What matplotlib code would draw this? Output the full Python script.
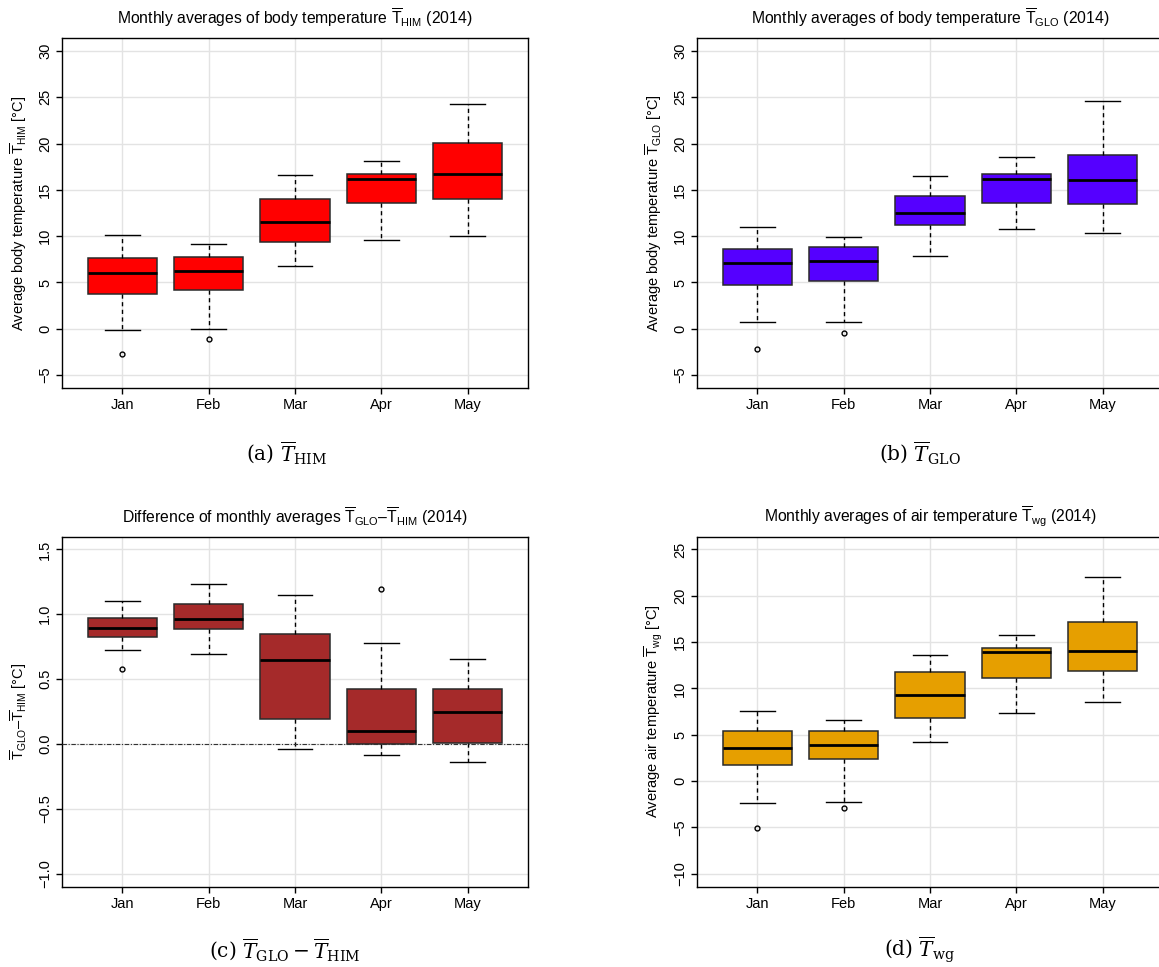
import matplotlib
matplotlib.use("Agg")
import matplotlib.pyplot as plt

plt.rcParams['font.family'] = ['Liberation Sans', 'DejaVu Sans']
plt.rcParams['mathtext.fontset'] = 'custom'
plt.rcParams['mathtext.rm'] = 'Liberation Sans'
plt.rcParams['mathtext.it'] = 'Liberation Sans:italic'
plt.rcParams['mathtext.bf'] = 'Liberation Sans:bold'

months = ["Jan", "Feb", "Mar", "Apr", "May"]

# box statistics: lower whisker, Q1, median, Q3, upper whisker
him_low = [-0.14, 0.0, 6.83, 9.60, 10.07]
him_q1 = [3.78, 4.17, 9.35, 13.60, 13.99]
him_med = [6.04, 6.29, 11.55, 16.12, 16.76]
him_q3 = [7.63, 7.77, 14.03, 16.76, 20.10]
him_high = [10.14, 9.14, 16.58, 18.17, 24.24]
him_out = [[-2.73], [-1.15], [], [], []]

glo_low = [0.68, 0.76, 7.91, 10.79, 10.29]
glo_q1 = [4.71, 5.18, 11.22, 13.53, 13.49]
glo_med = [7.09, 7.37, 12.52, 16.15, 16.08]
glo_q3 = [8.56, 8.81, 14.39, 16.76, 18.74]
glo_high = [10.94, 9.89, 16.55, 18.60, 24.57]
glo_out = [[-2.16], [-0.43], [], [], []]

diff_low = [0.728, 0.694, -0.039, -0.082, -0.139]
diff_q1 = [0.823, 0.887, 0.190, 0.003, 0.005]
diff_med = [0.895, 0.961, 0.650, 0.098, 0.244]
diff_q3 = [0.972, 1.077, 0.851, 0.422, 0.424]
diff_high = [1.100, 1.231, 1.152, 0.779, 0.656]
diff_out = [[0.578], [], [], [1.198], []]

wg_low = [-2.34, -2.30, 4.17, 7.30, 8.56]
wg_q1 = [1.73, 2.34, 6.80, 11.08, 11.91]
wg_med = [3.56, 3.92, 9.28, 13.96, 14.03]
wg_q3 = [5.40, 5.40, 11.76, 14.35, 17.16]
wg_high = [7.55, 6.62, 13.63, 15.72, 22.01]
wg_out = [[-5.04], [-2.95], [], [], []]


def make_stats(low, q1, med, q3, high, out):
    stats = []
    for i in range(len(months)):
        stats.append(dict(whislo=low[i], q1=q1[i], med=med[i], q3=q3[i],
                          whishi=high[i], fliers=out[i], label=months[i]))
    return stats


def r_boxplot(ax, stats, color, yticks, title, ylabel):
    pos = list(range(1, len(months) + 1))
    ax.bxp(stats, positions=pos, widths=0.8, capwidths=0.4, patch_artist=True,
           boxprops=dict(facecolor=color, edgecolor='#2a2a2a', linewidth=1.1),
           medianprops=dict(color='black', linewidth=2.0),
           whiskerprops=dict(color='black', linewidth=1.0, linestyle=(0, (3, 2.5))),
           capprops=dict(color='black', linewidth=1.0),
           flierprops=dict(marker='o', markersize=3.5, markerfacecolor='none',
                           markeredgecolor='black', markeredgewidth=1.0),
           zorder=3)
    lo, hi = yticks[0], yticks[-1]
    pad = (hi - lo) * 0.04
    ax.set_ylim(lo - pad, hi + pad)
    ax.set_xlim(0.3, 5.7)
    ax.set_yticks(yticks)
    ax.set_xticks(pos)
    ax.set_xticklabels(months)
    for y in yticks:
        ax.axhline(y, color='#E3E3E3', linewidth=1.0, zorder=0)
    for x in pos:
        ax.axvline(x, color='#E3E3E3', linewidth=1.0, zorder=0)
    ax.tick_params(axis='both', direction='out', length=4, width=1, labelsize=10.5, colors='black')
    ax.tick_params(axis='y', labelrotation=90, pad=3)
    for lab in ax.get_yticklabels():
        lab.set_va('center')
    for sp in ax.spines.values():
        sp.set_linewidth(1.0)
        sp.set_color('black')
    ax.set_title(title, fontsize=11.3, pad=10)
    ax.set_ylabel(ylabel, fontsize=10.5, va='center')
    ax.yaxis.set_label_coords(-0.094, 0.5)


fig = plt.figure(figsize=(11.59, 9.67), dpi=100)

W = 466 / 1159
H = 350 / 967
ax_a = fig.add_axes([62 / 1159, (967 - 388) / 967, W, H])
ax_b = fig.add_axes([697 / 1159, (967 - 388) / 967, W, H])
ax_c = fig.add_axes([62 / 1159, (967 - 886.5) / 967, W, H])
ax_d = fig.add_axes([697 / 1159, (967 - 886.5) / 967, W, H])

r_boxplot(ax_a, make_stats(him_low, him_q1, him_med, him_q3, him_high, him_out),
          '#FF0000', [-5, 0, 5, 10, 15, 20, 25, 30],
          r'Monthly averages of body temperature $\overline{\mathrm{T}}_{\mathrm{HIM}}$ (2014)',
          r'Average body temperature $\overline{\mathrm{T}}_{\mathrm{HIM}}$ [°C]')

r_boxplot(ax_b, make_stats(glo_low, glo_q1, glo_med, glo_q3, glo_high, glo_out),
          '#5500FF', [-5, 0, 5, 10, 15, 20, 25, 30],
          r'Monthly averages of body temperature $\overline{\mathrm{T}}_{\mathrm{GLO}}$ (2014)',
          r'Average body temperature $\overline{\mathrm{T}}_{\mathrm{GLO}}$ [°C]')

r_boxplot(ax_c, make_stats(diff_low, diff_q1, diff_med, diff_q3, diff_high, diff_out),
          '#A52A2A', [-1.0, -0.5, 0.0, 0.5, 1.0, 1.5],
          r'Difference of monthly averages $\overline{\mathrm{T}}_{\mathrm{GLO}}$–$\overline{\mathrm{T}}_{\mathrm{HIM}}$ (2014)',
          r'$\overline{\mathrm{T}}_{\mathrm{GLO}}$–$\overline{\mathrm{T}}_{\mathrm{HIM}}$ [°C]')
ax_c.set_yticklabels(['−1.0', '−0.5', '0.0', '0.5', '1.0', '1.5'])
ax_c.axhline(0, color='#333333', linewidth=0.8, linestyle=(0, (4, 1.5, 1, 1.5)), zorder=4)

r_boxplot(ax_d, make_stats(wg_low, wg_q1, wg_med, wg_q3, wg_high, wg_out),
          '#E69F00', [-10, -5, 0, 5, 10, 15, 20, 25],
          r'Monthly averages of air temperature $\overline{\mathrm{T}}_{\mathrm{wg}}$ (2014)',
          r'Average air temperature $\overline{\mathrm{T}}_{\mathrm{wg}}$ [°C]')

# sub-figure captions
cap_kw = dict(ha='center', va='center', fontsize=14.5, family='DejaVu Serif',
              math_fontfamily='dejavuserif')
fig.text(287 / 1159, 1 - 453 / 967, r'(a) $\overline{T}_{\mathrm{HIM}}$', **cap_kw)
fig.text(920 / 1159, 1 - 453 / 967, r'(b) $\overline{T}_{\mathrm{GLO}}$', **cap_kw)
fig.text(285 / 1159, 1 - 950 / 967, r'(c) $\overline{T}_{\mathrm{GLO}}-\overline{T}_{\mathrm{HIM}}$', **cap_kw)
fig.text(920 / 1159, 1 - 950 / 967, r'(d) $\overline{T}_{\mathrm{wg}}$', **cap_kw)

fig.savefig("out.png", dpi=100)
